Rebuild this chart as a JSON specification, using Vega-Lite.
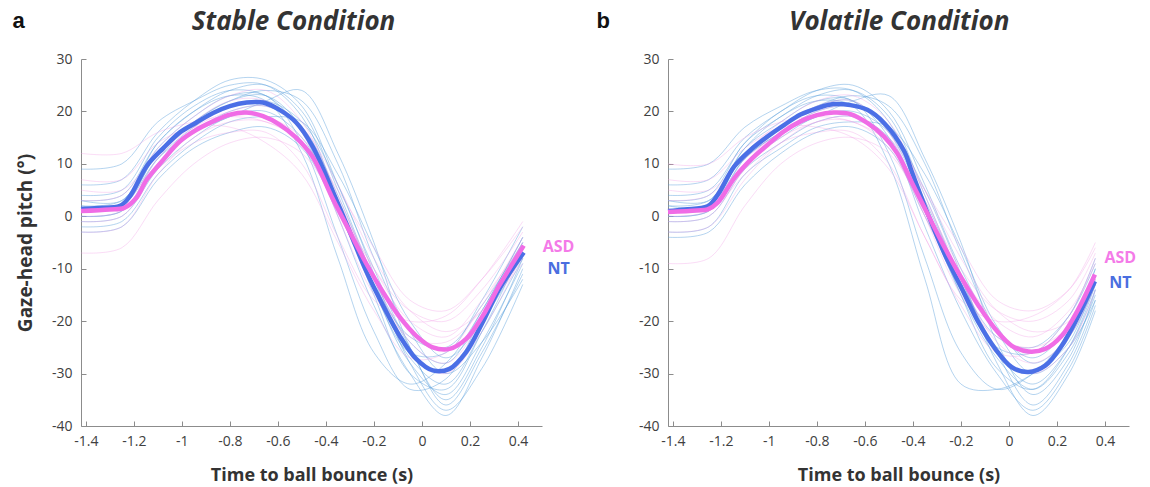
{
"$schema":"https://vega.github.io/schema/vega-lite/v6.json",
"background":"white",
"padding":{"left":12,"top":9,"right":5,"bottom":1},
"spacing":126,
"bounds":"flush",
"datasets":{
"ind":[
{"c":"S","g":"N","i":"n1","t":-1.42,"v":3},{"c":"S","g":"N","i":"n1","t":-1.25,"v":4},{"c":"S","g":"N","i":"n1","t":-1.1,"v":14},{"c":"S","g":"N","i":"n1","t":-0.95,"v":20},{"c":"S","g":"N","i":"n1","t":-0.8,"v":24},{"c":"S","g":"N","i":"n1","t":-0.65,"v":25},{"c":"S","g":"N","i":"n1","t":-0.5,"v":20},{"c":"S","g":"N","i":"n1","t":-0.35,"v":5},{"c":"S","g":"N","i":"n1","t":-0.2,"v":-12},{"c":"S","g":"N","i":"n1","t":-0.05,"v":-27},{"c":"S","g":"N","i":"n1","t":0.1,"v":-32},{"c":"S","g":"N","i":"n1","t":0.25,"v":-22},{"c":"S","g":"N","i":"n1","t":0.42,"v":-8},
{"c":"S","g":"N","i":"n2","t":-1.42,"v":-1},{"c":"S","g":"N","i":"n2","t":-1.25,"v":0},{"c":"S","g":"N","i":"n2","t":-1.1,"v":9},{"c":"S","g":"N","i":"n2","t":-0.95,"v":15},{"c":"S","g":"N","i":"n2","t":-0.8,"v":19},{"c":"S","g":"N","i":"n2","t":-0.65,"v":20},{"c":"S","g":"N","i":"n2","t":-0.5,"v":15},{"c":"S","g":"N","i":"n2","t":-0.35,"v":2},{"c":"S","g":"N","i":"n2","t":-0.2,"v":-14},{"c":"S","g":"N","i":"n2","t":-0.05,"v":-28},{"c":"S","g":"N","i":"n2","t":0.1,"v":-34},{"c":"S","g":"N","i":"n2","t":0.25,"v":-24},{"c":"S","g":"N","i":"n2","t":0.42,"v":-9},
{"c":"S","g":"N","i":"n3","t":-1.42,"v":6},{"c":"S","g":"N","i":"n3","t":-1.25,"v":7},{"c":"S","g":"N","i":"n3","t":-1.1,"v":16},{"c":"S","g":"N","i":"n3","t":-0.95,"v":22},{"c":"S","g":"N","i":"n3","t":-0.8,"v":26},{"c":"S","g":"N","i":"n3","t":-0.65,"v":26},{"c":"S","g":"N","i":"n3","t":-0.5,"v":21},{"c":"S","g":"N","i":"n3","t":-0.35,"v":6},{"c":"S","g":"N","i":"n3","t":-0.2,"v":-10},{"c":"S","g":"N","i":"n3","t":-0.05,"v":-24},{"c":"S","g":"N","i":"n3","t":0.1,"v":-28},{"c":"S","g":"N","i":"n3","t":0.25,"v":-18},{"c":"S","g":"N","i":"n3","t":0.42,"v":-4},
{"c":"S","g":"N","i":"n4","t":-1.42,"v":0},{"c":"S","g":"N","i":"n4","t":-1.25,"v":1},{"c":"S","g":"N","i":"n4","t":-1.1,"v":10},{"c":"S","g":"N","i":"n4","t":-0.95,"v":16},{"c":"S","g":"N","i":"n4","t":-0.8,"v":20},{"c":"S","g":"N","i":"n4","t":-0.65,"v":21},{"c":"S","g":"N","i":"n4","t":-0.5,"v":17},{"c":"S","g":"N","i":"n4","t":-0.35,"v":4},{"c":"S","g":"N","i":"n4","t":-0.2,"v":-12},{"c":"S","g":"N","i":"n4","t":-0.05,"v":-25},{"c":"S","g":"N","i":"n4","t":0.1,"v":-36},{"c":"S","g":"N","i":"n4","t":0.25,"v":-26},{"c":"S","g":"N","i":"n4","t":0.42,"v":-11},
{"c":"S","g":"N","i":"n5","t":-1.42,"v":2},{"c":"S","g":"N","i":"n5","t":-1.25,"v":3},{"c":"S","g":"N","i":"n5","t":-1.1,"v":13},{"c":"S","g":"N","i":"n5","t":-0.95,"v":19},{"c":"S","g":"N","i":"n5","t":-0.8,"v":23},{"c":"S","g":"N","i":"n5","t":-0.65,"v":23},{"c":"S","g":"N","i":"n5","t":-0.5,"v":14},{"c":"S","g":"N","i":"n5","t":-0.35,"v":-4},{"c":"S","g":"N","i":"n5","t":-0.2,"v":-22},{"c":"S","g":"N","i":"n5","t":-0.05,"v":-33},{"c":"S","g":"N","i":"n5","t":0.1,"v":-31},{"c":"S","g":"N","i":"n5","t":0.25,"v":-19},{"c":"S","g":"N","i":"n5","t":0.42,"v":-5},
{"c":"S","g":"N","i":"n6","t":-1.42,"v":-2},{"c":"S","g":"N","i":"n6","t":-1.25,"v":-1},{"c":"S","g":"N","i":"n6","t":-1.1,"v":8},{"c":"S","g":"N","i":"n6","t":-0.95,"v":14},{"c":"S","g":"N","i":"n6","t":-0.8,"v":18},{"c":"S","g":"N","i":"n6","t":-0.65,"v":19},{"c":"S","g":"N","i":"n6","t":-0.5,"v":18},{"c":"S","g":"N","i":"n6","t":-0.35,"v":8},{"c":"S","g":"N","i":"n6","t":-0.2,"v":-6},{"c":"S","g":"N","i":"n6","t":-0.05,"v":-20},{"c":"S","g":"N","i":"n6","t":0.1,"v":-27},{"c":"S","g":"N","i":"n6","t":0.25,"v":-20},{"c":"S","g":"N","i":"n6","t":0.42,"v":-7},
{"c":"S","g":"N","i":"n7","t":-1.42,"v":4},{"c":"S","g":"N","i":"n7","t":-1.25,"v":5},{"c":"S","g":"N","i":"n7","t":-1.1,"v":15},{"c":"S","g":"N","i":"n7","t":-0.95,"v":21},{"c":"S","g":"N","i":"n7","t":-0.8,"v":24},{"c":"S","g":"N","i":"n7","t":-0.65,"v":23},{"c":"S","g":"N","i":"n7","t":-0.5,"v":16},{"c":"S","g":"N","i":"n7","t":-0.35,"v":0},{"c":"S","g":"N","i":"n7","t":-0.2,"v":-17},{"c":"S","g":"N","i":"n7","t":-0.05,"v":-30},{"c":"S","g":"N","i":"n7","t":0.1,"v":-38},{"c":"S","g":"N","i":"n7","t":0.25,"v":-27},{"c":"S","g":"N","i":"n7","t":0.42,"v":-10},
{"c":"S","g":"N","i":"n8","t":-1.42,"v":1},{"c":"S","g":"N","i":"n8","t":-1.25,"v":2},{"c":"S","g":"N","i":"n8","t":-1.1,"v":12},{"c":"S","g":"N","i":"n8","t":-0.95,"v":18},{"c":"S","g":"N","i":"n8","t":-0.8,"v":22},{"c":"S","g":"N","i":"n8","t":-0.65,"v":24},{"c":"S","g":"N","i":"n8","t":-0.5,"v":22},{"c":"S","g":"N","i":"n8","t":-0.35,"v":10},{"c":"S","g":"N","i":"n8","t":-0.2,"v":-8},{"c":"S","g":"N","i":"n8","t":-0.05,"v":-22},{"c":"S","g":"N","i":"n8","t":0.1,"v":-30},{"c":"S","g":"N","i":"n8","t":0.25,"v":-24},{"c":"S","g":"N","i":"n8","t":0.42,"v":-12},
{"c":"S","g":"N","i":"n9","t":-1.42,"v":9},{"c":"S","g":"N","i":"n9","t":-1.25,"v":10},{"c":"S","g":"N","i":"n9","t":-1.1,"v":18},{"c":"S","g":"N","i":"n9","t":-0.95,"v":22},{"c":"S","g":"N","i":"n9","t":-0.8,"v":25},{"c":"S","g":"N","i":"n9","t":-0.65,"v":25},{"c":"S","g":"N","i":"n9","t":-0.5,"v":19},{"c":"S","g":"N","i":"n9","t":-0.35,"v":3},{"c":"S","g":"N","i":"n9","t":-0.2,"v":-14},{"c":"S","g":"N","i":"n9","t":-0.05,"v":-26},{"c":"S","g":"N","i":"n9","t":0.1,"v":-26},{"c":"S","g":"N","i":"n9","t":0.25,"v":-16},{"c":"S","g":"N","i":"n9","t":0.42,"v":-2},
{"c":"S","g":"N","i":"n10","t":-1.42,"v":-3},{"c":"S","g":"N","i":"n10","t":-1.25,"v":-2},{"c":"S","g":"N","i":"n10","t":-1.1,"v":7},{"c":"S","g":"N","i":"n10","t":-0.95,"v":13},{"c":"S","g":"N","i":"n10","t":-0.8,"v":16},{"c":"S","g":"N","i":"n10","t":-0.65,"v":17},{"c":"S","g":"N","i":"n10","t":-0.5,"v":13},{"c":"S","g":"N","i":"n10","t":-0.35,"v":1},{"c":"S","g":"N","i":"n10","t":-0.2,"v":-13},{"c":"S","g":"N","i":"n10","t":-0.05,"v":-23},{"c":"S","g":"N","i":"n10","t":0.1,"v":-25},{"c":"S","g":"N","i":"n10","t":0.25,"v":-17},{"c":"S","g":"N","i":"n10","t":0.42,"v":-5},
{"c":"S","g":"N","i":"n11","t":-1.42,"v":2},{"c":"S","g":"N","i":"n11","t":-1.25,"v":2},{"c":"S","g":"N","i":"n11","t":-1.1,"v":11},{"c":"S","g":"N","i":"n11","t":-0.95,"v":16},{"c":"S","g":"N","i":"n11","t":-0.8,"v":19},{"c":"S","g":"N","i":"n11","t":-0.65,"v":22},{"c":"S","g":"N","i":"n11","t":-0.5,"v":24},{"c":"S","g":"N","i":"n11","t":-0.35,"v":12},{"c":"S","g":"N","i":"n11","t":-0.2,"v":-5},{"c":"S","g":"N","i":"n11","t":-0.05,"v":-25},{"c":"S","g":"N","i":"n11","t":0.1,"v":-35},{"c":"S","g":"N","i":"n11","t":0.25,"v":-25},{"c":"S","g":"N","i":"n11","t":0.42,"v":-8},
{"c":"S","g":"N","i":"n12","t":-1.42,"v":0},{"c":"S","g":"N","i":"n12","t":-1.25,"v":1},{"c":"S","g":"N","i":"n12","t":-1.1,"v":11},{"c":"S","g":"N","i":"n12","t":-0.95,"v":17},{"c":"S","g":"N","i":"n12","t":-0.8,"v":21},{"c":"S","g":"N","i":"n12","t":-0.65,"v":22},{"c":"S","g":"N","i":"n12","t":-0.5,"v":18},{"c":"S","g":"N","i":"n12","t":-0.35,"v":6},{"c":"S","g":"N","i":"n12","t":-0.2,"v":-11},{"c":"S","g":"N","i":"n12","t":-0.05,"v":-28},{"c":"S","g":"N","i":"n12","t":0.1,"v":-37},{"c":"S","g":"N","i":"n12","t":0.25,"v":-29},{"c":"S","g":"N","i":"n12","t":0.42,"v":-13},
{"c":"S","g":"N","i":"n13","t":-1.42,"v":3},{"c":"S","g":"N","i":"n13","t":-1.25,"v":3},{"c":"S","g":"N","i":"n13","t":-1.1,"v":14},{"c":"S","g":"N","i":"n13","t":-0.95,"v":20},{"c":"S","g":"N","i":"n13","t":-0.8,"v":23},{"c":"S","g":"N","i":"n13","t":-0.65,"v":22},{"c":"S","g":"N","i":"n13","t":-0.5,"v":12},{"c":"S","g":"N","i":"n13","t":-0.35,"v":-8},{"c":"S","g":"N","i":"n13","t":-0.2,"v":-26},{"c":"S","g":"N","i":"n13","t":-0.05,"v":-32},{"c":"S","g":"N","i":"n13","t":0.1,"v":-28},{"c":"S","g":"N","i":"n13","t":0.25,"v":-18},{"c":"S","g":"N","i":"n13","t":0.42,"v":-4},
{"c":"S","g":"N","i":"n14","t":-1.42,"v":1},{"c":"S","g":"N","i":"n14","t":-1.25,"v":2},{"c":"S","g":"N","i":"n14","t":-1.1,"v":12},{"c":"S","g":"N","i":"n14","t":-0.95,"v":18},{"c":"S","g":"N","i":"n14","t":-0.8,"v":22},{"c":"S","g":"N","i":"n14","t":-0.65,"v":23},{"c":"S","g":"N","i":"n14","t":-0.5,"v":17},{"c":"S","g":"N","i":"n14","t":-0.35,"v":3},{"c":"S","g":"N","i":"n14","t":-0.2,"v":-15},{"c":"S","g":"N","i":"n14","t":-0.05,"v":-30},{"c":"S","g":"N","i":"n14","t":0.1,"v":-33},{"c":"S","g":"N","i":"n14","t":0.25,"v":-22},{"c":"S","g":"N","i":"n14","t":0.42,"v":-6},
{"c":"S","g":"A","i":"a1","t":-1.42,"v":12},{"c":"S","g":"A","i":"a1","t":-1.25,"v":12},{"c":"S","g":"A","i":"a1","t":-1.1,"v":16},{"c":"S","g":"A","i":"a1","t":-0.95,"v":18},{"c":"S","g":"A","i":"a1","t":-0.8,"v":19},{"c":"S","g":"A","i":"a1","t":-0.65,"v":18},{"c":"S","g":"A","i":"a1","t":-0.5,"v":14},{"c":"S","g":"A","i":"a1","t":-0.35,"v":3},{"c":"S","g":"A","i":"a1","t":-0.2,"v":-10},{"c":"S","g":"A","i":"a1","t":-0.05,"v":-18},{"c":"S","g":"A","i":"a1","t":0.1,"v":-20},{"c":"S","g":"A","i":"a1","t":0.25,"v":-14},{"c":"S","g":"A","i":"a1","t":0.42,"v":-3},
{"c":"S","g":"A","i":"a2","t":-1.42,"v":-7},{"c":"S","g":"A","i":"a2","t":-1.25,"v":-6},{"c":"S","g":"A","i":"a2","t":-1.1,"v":3},{"c":"S","g":"A","i":"a2","t":-0.95,"v":10},{"c":"S","g":"A","i":"a2","t":-0.8,"v":14},{"c":"S","g":"A","i":"a2","t":-0.65,"v":15},{"c":"S","g":"A","i":"a2","t":-0.5,"v":12},{"c":"S","g":"A","i":"a2","t":-0.35,"v":2},{"c":"S","g":"A","i":"a2","t":-0.2,"v":-10},{"c":"S","g":"A","i":"a2","t":-0.05,"v":-20},{"c":"S","g":"A","i":"a2","t":0.1,"v":-23},{"c":"S","g":"A","i":"a2","t":0.25,"v":-16},{"c":"S","g":"A","i":"a2","t":0.42,"v":-5},
{"c":"S","g":"A","i":"a3","t":-1.42,"v":3},{"c":"S","g":"A","i":"a3","t":-1.25,"v":4},{"c":"S","g":"A","i":"a3","t":-1.1,"v":13},{"c":"S","g":"A","i":"a3","t":-0.95,"v":19},{"c":"S","g":"A","i":"a3","t":-0.8,"v":23},{"c":"S","g":"A","i":"a3","t":-0.65,"v":24},{"c":"S","g":"A","i":"a3","t":-0.5,"v":18},{"c":"S","g":"A","i":"a3","t":-0.35,"v":4},{"c":"S","g":"A","i":"a3","t":-0.2,"v":-12},{"c":"S","g":"A","i":"a3","t":-0.05,"v":-24},{"c":"S","g":"A","i":"a3","t":0.1,"v":-28},{"c":"S","g":"A","i":"a3","t":0.25,"v":-20},{"c":"S","g":"A","i":"a3","t":0.42,"v":-6},
{"c":"S","g":"A","i":"a4","t":-1.42,"v":0},{"c":"S","g":"A","i":"a4","t":-1.25,"v":1},{"c":"S","g":"A","i":"a4","t":-1.1,"v":9},{"c":"S","g":"A","i":"a4","t":-0.95,"v":14},{"c":"S","g":"A","i":"a4","t":-0.8,"v":16},{"c":"S","g":"A","i":"a4","t":-0.65,"v":16},{"c":"S","g":"A","i":"a4","t":-0.5,"v":10},{"c":"S","g":"A","i":"a4","t":-0.35,"v":-4},{"c":"S","g":"A","i":"a4","t":-0.2,"v":-16},{"c":"S","g":"A","i":"a4","t":-0.05,"v":-20},{"c":"S","g":"A","i":"a4","t":0.1,"v":-19},{"c":"S","g":"A","i":"a4","t":0.25,"v":-12},{"c":"S","g":"A","i":"a4","t":0.42,"v":-1},
{"c":"S","g":"A","i":"a5","t":-1.42,"v":5},{"c":"S","g":"A","i":"a5","t":-1.25,"v":5},{"c":"S","g":"A","i":"a5","t":-1.1,"v":12},{"c":"S","g":"A","i":"a5","t":-0.95,"v":17},{"c":"S","g":"A","i":"a5","t":-0.8,"v":20},{"c":"S","g":"A","i":"a5","t":-0.65,"v":21},{"c":"S","g":"A","i":"a5","t":-0.5,"v":17},{"c":"S","g":"A","i":"a5","t":-0.35,"v":6},{"c":"S","g":"A","i":"a5","t":-0.2,"v":-8},{"c":"S","g":"A","i":"a5","t":-0.05,"v":-18},{"c":"S","g":"A","i":"a5","t":0.1,"v":-22},{"c":"S","g":"A","i":"a5","t":0.25,"v":-18},{"c":"S","g":"A","i":"a5","t":0.42,"v":-8},
{"c":"S","g":"A","i":"a6","t":-1.42,"v":-3},{"c":"S","g":"A","i":"a6","t":-1.25,"v":-2},{"c":"S","g":"A","i":"a6","t":-1.1,"v":8},{"c":"S","g":"A","i":"a6","t":-0.95,"v":15},{"c":"S","g":"A","i":"a6","t":-0.8,"v":18},{"c":"S","g":"A","i":"a6","t":-0.65,"v":18},{"c":"S","g":"A","i":"a6","t":-0.5,"v":14},{"c":"S","g":"A","i":"a6","t":-0.35,"v":1},{"c":"S","g":"A","i":"a6","t":-0.2,"v":-14},{"c":"S","g":"A","i":"a6","t":-0.05,"v":-26},{"c":"S","g":"A","i":"a6","t":0.1,"v":-30},{"c":"S","g":"A","i":"a6","t":0.25,"v":-22},{"c":"S","g":"A","i":"a6","t":0.42,"v":-7},
{"c":"S","g":"A","i":"a7","t":-1.42,"v":7},{"c":"S","g":"A","i":"a7","t":-1.25,"v":7},{"c":"S","g":"A","i":"a7","t":-1.1,"v":14},{"c":"S","g":"A","i":"a7","t":-0.95,"v":17},{"c":"S","g":"A","i":"a7","t":-0.8,"v":17},{"c":"S","g":"A","i":"a7","t":-0.65,"v":14},{"c":"S","g":"A","i":"a7","t":-0.5,"v":8},{"c":"S","g":"A","i":"a7","t":-0.35,"v":-5},{"c":"S","g":"A","i":"a7","t":-0.2,"v":-18},{"c":"S","g":"A","i":"a7","t":-0.05,"v":-27},{"c":"S","g":"A","i":"a7","t":0.1,"v":-26},{"c":"S","g":"A","i":"a7","t":0.25,"v":-17},{"c":"S","g":"A","i":"a7","t":0.42,"v":-4},
{"c":"S","g":"A","i":"a8","t":-1.42,"v":1},{"c":"S","g":"A","i":"a8","t":-1.25,"v":2},{"c":"S","g":"A","i":"a8","t":-1.1,"v":11},{"c":"S","g":"A","i":"a8","t":-0.95,"v":18},{"c":"S","g":"A","i":"a8","t":-0.8,"v":22},{"c":"S","g":"A","i":"a8","t":-0.65,"v":22},{"c":"S","g":"A","i":"a8","t":-0.5,"v":16},{"c":"S","g":"A","i":"a8","t":-0.35,"v":0},{"c":"S","g":"A","i":"a8","t":-0.2,"v":-15},{"c":"S","g":"A","i":"a8","t":-0.05,"v":-23},{"c":"S","g":"A","i":"a8","t":0.1,"v":-24},{"c":"S","g":"A","i":"a8","t":0.25,"v":-18},{"c":"S","g":"A","i":"a8","t":0.42,"v":-9},
{"c":"S","g":"A","i":"a9","t":-1.42,"v":-1},{"c":"S","g":"A","i":"a9","t":-1.25,"v":0},{"c":"S","g":"A","i":"a9","t":-1.1,"v":10},{"c":"S","g":"A","i":"a9","t":-0.95,"v":16},{"c":"S","g":"A","i":"a9","t":-0.8,"v":19},{"c":"S","g":"A","i":"a9","t":-0.65,"v":19},{"c":"S","g":"A","i":"a9","t":-0.5,"v":15},{"c":"S","g":"A","i":"a9","t":-0.35,"v":5},{"c":"S","g":"A","i":"a9","t":-0.2,"v":-6},{"c":"S","g":"A","i":"a9","t":-0.05,"v":-16},{"c":"S","g":"A","i":"a9","t":0.1,"v":-18},{"c":"S","g":"A","i":"a9","t":0.25,"v":-12},{"c":"S","g":"A","i":"a9","t":0.42,"v":-2},
{"c":"V","g":"N","i":"m1","t":-1.42,"v":3},{"c":"V","g":"N","i":"m1","t":-1.25,"v":4},{"c":"V","g":"N","i":"m1","t":-1.1,"v":14},{"c":"V","g":"N","i":"m1","t":-0.95,"v":19},{"c":"V","g":"N","i":"m1","t":-0.8,"v":23},{"c":"V","g":"N","i":"m1","t":-0.65,"v":24},{"c":"V","g":"N","i":"m1","t":-0.5,"v":19},{"c":"V","g":"N","i":"m1","t":-0.35,"v":4},{"c":"V","g":"N","i":"m1","t":-0.2,"v":-12},{"c":"V","g":"N","i":"m1","t":-0.05,"v":-26},{"c":"V","g":"N","i":"m1","t":0.1,"v":-32},{"c":"V","g":"N","i":"m1","t":0.25,"v":-25},{"c":"V","g":"N","i":"m1","t":0.36,"v":-14},
{"c":"V","g":"N","i":"m2","t":-1.42,"v":-1},{"c":"V","g":"N","i":"m2","t":-1.25,"v":0},{"c":"V","g":"N","i":"m2","t":-1.1,"v":9},{"c":"V","g":"N","i":"m2","t":-0.95,"v":14},{"c":"V","g":"N","i":"m2","t":-0.8,"v":18},{"c":"V","g":"N","i":"m2","t":-0.65,"v":19},{"c":"V","g":"N","i":"m2","t":-0.5,"v":15},{"c":"V","g":"N","i":"m2","t":-0.35,"v":1},{"c":"V","g":"N","i":"m2","t":-0.2,"v":-15},{"c":"V","g":"N","i":"m2","t":-0.05,"v":-27},{"c":"V","g":"N","i":"m2","t":0.1,"v":-33},{"c":"V","g":"N","i":"m2","t":0.25,"v":-26},{"c":"V","g":"N","i":"m2","t":0.36,"v":-15},
{"c":"V","g":"N","i":"m3","t":-1.42,"v":6},{"c":"V","g":"N","i":"m3","t":-1.25,"v":7},{"c":"V","g":"N","i":"m3","t":-1.1,"v":15},{"c":"V","g":"N","i":"m3","t":-0.95,"v":20},{"c":"V","g":"N","i":"m3","t":-0.8,"v":24},{"c":"V","g":"N","i":"m3","t":-0.65,"v":25},{"c":"V","g":"N","i":"m3","t":-0.5,"v":20},{"c":"V","g":"N","i":"m3","t":-0.35,"v":6},{"c":"V","g":"N","i":"m3","t":-0.2,"v":-10},{"c":"V","g":"N","i":"m3","t":-0.05,"v":-22},{"c":"V","g":"N","i":"m3","t":0.1,"v":-27},{"c":"V","g":"N","i":"m3","t":0.25,"v":-21},{"c":"V","g":"N","i":"m3","t":0.36,"v":-10},
{"c":"V","g":"N","i":"m4","t":-1.42,"v":0},{"c":"V","g":"N","i":"m4","t":-1.25,"v":1},{"c":"V","g":"N","i":"m4","t":-1.1,"v":10},{"c":"V","g":"N","i":"m4","t":-0.95,"v":15},{"c":"V","g":"N","i":"m4","t":-0.8,"v":19},{"c":"V","g":"N","i":"m4","t":-0.65,"v":20},{"c":"V","g":"N","i":"m4","t":-0.5,"v":16},{"c":"V","g":"N","i":"m4","t":-0.35,"v":3},{"c":"V","g":"N","i":"m4","t":-0.2,"v":-12},{"c":"V","g":"N","i":"m4","t":-0.05,"v":-26},{"c":"V","g":"N","i":"m4","t":0.1,"v":-36},{"c":"V","g":"N","i":"m4","t":0.25,"v":-28},{"c":"V","g":"N","i":"m4","t":0.36,"v":-16},
{"c":"V","g":"N","i":"m5","t":-1.42,"v":2},{"c":"V","g":"N","i":"m5","t":-1.25,"v":3},{"c":"V","g":"N","i":"m5","t":-1.1,"v":13},{"c":"V","g":"N","i":"m5","t":-0.95,"v":18},{"c":"V","g":"N","i":"m5","t":-0.8,"v":22},{"c":"V","g":"N","i":"m5","t":-0.65,"v":22},{"c":"V","g":"N","i":"m5","t":-0.5,"v":12},{"c":"V","g":"N","i":"m5","t":-0.35,"v":-8},{"c":"V","g":"N","i":"m5","t":-0.2,"v":-26},{"c":"V","g":"N","i":"m5","t":-0.05,"v":-33},{"c":"V","g":"N","i":"m5","t":0.1,"v":-30},{"c":"V","g":"N","i":"m5","t":0.25,"v":-22},{"c":"V","g":"N","i":"m5","t":0.36,"v":-10},
{"c":"V","g":"N","i":"m6","t":-1.42,"v":-3},{"c":"V","g":"N","i":"m6","t":-1.25,"v":-2},{"c":"V","g":"N","i":"m6","t":-1.1,"v":8},{"c":"V","g":"N","i":"m6","t":-0.95,"v":13},{"c":"V","g":"N","i":"m6","t":-0.8,"v":17},{"c":"V","g":"N","i":"m6","t":-0.65,"v":18},{"c":"V","g":"N","i":"m6","t":-0.5,"v":17},{"c":"V","g":"N","i":"m6","t":-0.35,"v":8},{"c":"V","g":"N","i":"m6","t":-0.2,"v":-6},{"c":"V","g":"N","i":"m6","t":-0.05,"v":-21},{"c":"V","g":"N","i":"m6","t":0.1,"v":-28},{"c":"V","g":"N","i":"m6","t":0.25,"v":-23},{"c":"V","g":"N","i":"m6","t":0.36,"v":-13},
{"c":"V","g":"N","i":"m7","t":-1.42,"v":4},{"c":"V","g":"N","i":"m7","t":-1.25,"v":5},{"c":"V","g":"N","i":"m7","t":-1.1,"v":14},{"c":"V","g":"N","i":"m7","t":-0.95,"v":20},{"c":"V","g":"N","i":"m7","t":-0.8,"v":23},{"c":"V","g":"N","i":"m7","t":-0.65,"v":22},{"c":"V","g":"N","i":"m7","t":-0.5,"v":15},{"c":"V","g":"N","i":"m7","t":-0.35,"v":-2},{"c":"V","g":"N","i":"m7","t":-0.2,"v":-18},{"c":"V","g":"N","i":"m7","t":-0.05,"v":-30},{"c":"V","g":"N","i":"m7","t":0.1,"v":-37},{"c":"V","g":"N","i":"m7","t":0.25,"v":-29},{"c":"V","g":"N","i":"m7","t":0.36,"v":-17},
{"c":"V","g":"N","i":"m8","t":-1.42,"v":1},{"c":"V","g":"N","i":"m8","t":-1.25,"v":2},{"c":"V","g":"N","i":"m8","t":-1.1,"v":12},{"c":"V","g":"N","i":"m8","t":-0.95,"v":17},{"c":"V","g":"N","i":"m8","t":-0.8,"v":21},{"c":"V","g":"N","i":"m8","t":-0.65,"v":23},{"c":"V","g":"N","i":"m8","t":-0.5,"v":21},{"c":"V","g":"N","i":"m8","t":-0.35,"v":10},{"c":"V","g":"N","i":"m8","t":-0.2,"v":-7},{"c":"V","g":"N","i":"m8","t":-0.05,"v":-22},{"c":"V","g":"N","i":"m8","t":0.1,"v":-30},{"c":"V","g":"N","i":"m8","t":0.25,"v":-25},{"c":"V","g":"N","i":"m8","t":0.36,"v":-16},
{"c":"V","g":"N","i":"m9","t":-1.42,"v":9},{"c":"V","g":"N","i":"m9","t":-1.25,"v":10},{"c":"V","g":"N","i":"m9","t":-1.1,"v":17},{"c":"V","g":"N","i":"m9","t":-0.95,"v":21},{"c":"V","g":"N","i":"m9","t":-0.8,"v":24},{"c":"V","g":"N","i":"m9","t":-0.65,"v":24},{"c":"V","g":"N","i":"m9","t":-0.5,"v":18},{"c":"V","g":"N","i":"m9","t":-0.35,"v":2},{"c":"V","g":"N","i":"m9","t":-0.2,"v":-14},{"c":"V","g":"N","i":"m9","t":-0.05,"v":-25},{"c":"V","g":"N","i":"m9","t":0.1,"v":-26},{"c":"V","g":"N","i":"m9","t":0.25,"v":-19},{"c":"V","g":"N","i":"m9","t":0.36,"v":-8},
{"c":"V","g":"N","i":"m10","t":-1.42,"v":-4},{"c":"V","g":"N","i":"m10","t":-1.25,"v":-3},{"c":"V","g":"N","i":"m10","t":-1.1,"v":6},{"c":"V","g":"N","i":"m10","t":-0.95,"v":12},{"c":"V","g":"N","i":"m10","t":-0.8,"v":16},{"c":"V","g":"N","i":"m10","t":-0.65,"v":17},{"c":"V","g":"N","i":"m10","t":-0.5,"v":13},{"c":"V","g":"N","i":"m10","t":-0.35,"v":0},{"c":"V","g":"N","i":"m10","t":-0.2,"v":-13},{"c":"V","g":"N","i":"m10","t":-0.05,"v":-23},{"c":"V","g":"N","i":"m10","t":0.1,"v":-25},{"c":"V","g":"N","i":"m10","t":0.25,"v":-19},{"c":"V","g":"N","i":"m10","t":0.36,"v":-9},
{"c":"V","g":"N","i":"m11","t":-1.42,"v":2},{"c":"V","g":"N","i":"m11","t":-1.25,"v":2},{"c":"V","g":"N","i":"m11","t":-1.1,"v":11},{"c":"V","g":"N","i":"m11","t":-0.95,"v":16},{"c":"V","g":"N","i":"m11","t":-0.8,"v":19},{"c":"V","g":"N","i":"m11","t":-0.65,"v":22},{"c":"V","g":"N","i":"m11","t":-0.5,"v":23},{"c":"V","g":"N","i":"m11","t":-0.35,"v":11},{"c":"V","g":"N","i":"m11","t":-0.2,"v":-5},{"c":"V","g":"N","i":"m11","t":-0.05,"v":-24},{"c":"V","g":"N","i":"m11","t":0.1,"v":-34},{"c":"V","g":"N","i":"m11","t":0.25,"v":-27},{"c":"V","g":"N","i":"m11","t":0.36,"v":-14},
{"c":"V","g":"N","i":"m12","t":-1.42,"v":0},{"c":"V","g":"N","i":"m12","t":-1.25,"v":1},{"c":"V","g":"N","i":"m12","t":-1.1,"v":11},{"c":"V","g":"N","i":"m12","t":-0.95,"v":16},{"c":"V","g":"N","i":"m12","t":-0.8,"v":20},{"c":"V","g":"N","i":"m12","t":-0.65,"v":21},{"c":"V","g":"N","i":"m12","t":-0.5,"v":17},{"c":"V","g":"N","i":"m12","t":-0.35,"v":5},{"c":"V","g":"N","i":"m12","t":-0.2,"v":-11},{"c":"V","g":"N","i":"m12","t":-0.05,"v":-28},{"c":"V","g":"N","i":"m12","t":0.1,"v":-38},{"c":"V","g":"N","i":"m12","t":0.25,"v":-30},{"c":"V","g":"N","i":"m12","t":0.36,"v":-18},
{"c":"V","g":"N","i":"m13","t":-1.42,"v":3},{"c":"V","g":"N","i":"m13","t":-1.25,"v":3},{"c":"V","g":"N","i":"m13","t":-1.1,"v":13},{"c":"V","g":"N","i":"m13","t":-0.95,"v":19},{"c":"V","g":"N","i":"m13","t":-0.8,"v":22},{"c":"V","g":"N","i":"m13","t":-0.65,"v":21},{"c":"V","g":"N","i":"m13","t":-0.5,"v":10},{"c":"V","g":"N","i":"m13","t":-0.35,"v":-12},{"c":"V","g":"N","i":"m13","t":-0.2,"v":-32},{"c":"V","g":"N","i":"m13","t":-0.05,"v":-33},{"c":"V","g":"N","i":"m13","t":0.1,"v":-30},{"c":"V","g":"N","i":"m13","t":0.25,"v":-24},{"c":"V","g":"N","i":"m13","t":0.36,"v":-12},
{"c":"V","g":"N","i":"m14","t":-1.42,"v":1},{"c":"V","g":"N","i":"m14","t":-1.25,"v":2},{"c":"V","g":"N","i":"m14","t":-1.1,"v":12},{"c":"V","g":"N","i":"m14","t":-0.95,"v":17},{"c":"V","g":"N","i":"m14","t":-0.8,"v":21},{"c":"V","g":"N","i":"m14","t":-0.65,"v":22},{"c":"V","g":"N","i":"m14","t":-0.5,"v":16},{"c":"V","g":"N","i":"m14","t":-0.35,"v":2},{"c":"V","g":"N","i":"m14","t":-0.2,"v":-15},{"c":"V","g":"N","i":"m14","t":-0.05,"v":-29},{"c":"V","g":"N","i":"m14","t":0.1,"v":-33},{"c":"V","g":"N","i":"m14","t":0.25,"v":-25},{"c":"V","g":"N","i":"m14","t":0.36,"v":-13},
{"c":"V","g":"A","i":"b1","t":-1.42,"v":10},{"c":"V","g":"A","i":"b1","t":-1.25,"v":10},{"c":"V","g":"A","i":"b1","t":-1.1,"v":15},{"c":"V","g":"A","i":"b1","t":-0.95,"v":18},{"c":"V","g":"A","i":"b1","t":-0.8,"v":19},{"c":"V","g":"A","i":"b1","t":-0.65,"v":18},{"c":"V","g":"A","i":"b1","t":-0.5,"v":14},{"c":"V","g":"A","i":"b1","t":-0.35,"v":3},{"c":"V","g":"A","i":"b1","t":-0.2,"v":-10},{"c":"V","g":"A","i":"b1","t":-0.05,"v":-18},{"c":"V","g":"A","i":"b1","t":0.1,"v":-20},{"c":"V","g":"A","i":"b1","t":0.25,"v":-16},{"c":"V","g":"A","i":"b1","t":0.36,"v":-7},
{"c":"V","g":"A","i":"b2","t":-1.42,"v":-9},{"c":"V","g":"A","i":"b2","t":-1.25,"v":-8},{"c":"V","g":"A","i":"b2","t":-1.1,"v":2},{"c":"V","g":"A","i":"b2","t":-0.95,"v":10},{"c":"V","g":"A","i":"b2","t":-0.8,"v":14},{"c":"V","g":"A","i":"b2","t":-0.65,"v":15},{"c":"V","g":"A","i":"b2","t":-0.5,"v":12},{"c":"V","g":"A","i":"b2","t":-0.35,"v":1},{"c":"V","g":"A","i":"b2","t":-0.2,"v":-11},{"c":"V","g":"A","i":"b2","t":-0.05,"v":-20},{"c":"V","g":"A","i":"b2","t":0.1,"v":-23},{"c":"V","g":"A","i":"b2","t":0.25,"v":-18},{"c":"V","g":"A","i":"b2","t":0.36,"v":-9},
{"c":"V","g":"A","i":"b3","t":-1.42,"v":3},{"c":"V","g":"A","i":"b3","t":-1.25,"v":4},{"c":"V","g":"A","i":"b3","t":-1.1,"v":12},{"c":"V","g":"A","i":"b3","t":-0.95,"v":18},{"c":"V","g":"A","i":"b3","t":-0.8,"v":22},{"c":"V","g":"A","i":"b3","t":-0.65,"v":23},{"c":"V","g":"A","i":"b3","t":-0.5,"v":18},{"c":"V","g":"A","i":"b3","t":-0.35,"v":4},{"c":"V","g":"A","i":"b3","t":-0.2,"v":-12},{"c":"V","g":"A","i":"b3","t":-0.05,"v":-24},{"c":"V","g":"A","i":"b3","t":0.1,"v":-28},{"c":"V","g":"A","i":"b3","t":0.25,"v":-23},{"c":"V","g":"A","i":"b3","t":0.36,"v":-13},
{"c":"V","g":"A","i":"b4","t":-1.42,"v":0},{"c":"V","g":"A","i":"b4","t":-1.25,"v":1},{"c":"V","g":"A","i":"b4","t":-1.1,"v":8},{"c":"V","g":"A","i":"b4","t":-0.95,"v":14},{"c":"V","g":"A","i":"b4","t":-0.8,"v":16},{"c":"V","g":"A","i":"b4","t":-0.65,"v":16},{"c":"V","g":"A","i":"b4","t":-0.5,"v":10},{"c":"V","g":"A","i":"b4","t":-0.35,"v":-4},{"c":"V","g":"A","i":"b4","t":-0.2,"v":-16},{"c":"V","g":"A","i":"b4","t":-0.05,"v":-20},{"c":"V","g":"A","i":"b4","t":0.1,"v":-19},{"c":"V","g":"A","i":"b4","t":0.25,"v":-14},{"c":"V","g":"A","i":"b4","t":0.36,"v":-5},
{"c":"V","g":"A","i":"b5","t":-1.42,"v":5},{"c":"V","g":"A","i":"b5","t":-1.25,"v":5},{"c":"V","g":"A","i":"b5","t":-1.1,"v":11},{"c":"V","g":"A","i":"b5","t":-0.95,"v":16},{"c":"V","g":"A","i":"b5","t":-0.8,"v":20},{"c":"V","g":"A","i":"b5","t":-0.65,"v":21},{"c":"V","g":"A","i":"b5","t":-0.5,"v":17},{"c":"V","g":"A","i":"b5","t":-0.35,"v":5},{"c":"V","g":"A","i":"b5","t":-0.2,"v":-8},{"c":"V","g":"A","i":"b5","t":-0.05,"v":-18},{"c":"V","g":"A","i":"b5","t":0.1,"v":-22},{"c":"V","g":"A","i":"b5","t":0.25,"v":-20},{"c":"V","g":"A","i":"b5","t":0.36,"v":-12},
{"c":"V","g":"A","i":"b6","t":-1.42,"v":-3},{"c":"V","g":"A","i":"b6","t":-1.25,"v":-2},{"c":"V","g":"A","i":"b6","t":-1.1,"v":7},{"c":"V","g":"A","i":"b6","t":-0.95,"v":14},{"c":"V","g":"A","i":"b6","t":-0.8,"v":18},{"c":"V","g":"A","i":"b6","t":-0.65,"v":18},{"c":"V","g":"A","i":"b6","t":-0.5,"v":13},{"c":"V","g":"A","i":"b6","t":-0.35,"v":0},{"c":"V","g":"A","i":"b6","t":-0.2,"v":-14},{"c":"V","g":"A","i":"b6","t":-0.05,"v":-26},{"c":"V","g":"A","i":"b6","t":0.1,"v":-30},{"c":"V","g":"A","i":"b6","t":0.25,"v":-25},{"c":"V","g":"A","i":"b6","t":0.36,"v":-14},
{"c":"V","g":"A","i":"b7","t":-1.42,"v":7},{"c":"V","g":"A","i":"b7","t":-1.25,"v":7},{"c":"V","g":"A","i":"b7","t":-1.1,"v":13},{"c":"V","g":"A","i":"b7","t":-0.95,"v":17},{"c":"V","g":"A","i":"b7","t":-0.8,"v":17},{"c":"V","g":"A","i":"b7","t":-0.65,"v":15},{"c":"V","g":"A","i":"b7","t":-0.5,"v":9},{"c":"V","g":"A","i":"b7","t":-0.35,"v":-4},{"c":"V","g":"A","i":"b7","t":-0.2,"v":-17},{"c":"V","g":"A","i":"b7","t":-0.05,"v":-26},{"c":"V","g":"A","i":"b7","t":0.1,"v":-26},{"c":"V","g":"A","i":"b7","t":0.25,"v":-19},{"c":"V","g":"A","i":"b7","t":0.36,"v":-8},
{"c":"V","g":"A","i":"b8","t":-1.42,"v":1},{"c":"V","g":"A","i":"b8","t":-1.25,"v":2},{"c":"V","g":"A","i":"b8","t":-1.1,"v":10},{"c":"V","g":"A","i":"b8","t":-0.95,"v":17},{"c":"V","g":"A","i":"b8","t":-0.8,"v":21},{"c":"V","g":"A","i":"b8","t":-0.65,"v":22},{"c":"V","g":"A","i":"b8","t":-0.5,"v":16},{"c":"V","g":"A","i":"b8","t":-0.35,"v":0},{"c":"V","g":"A","i":"b8","t":-0.2,"v":-15},{"c":"V","g":"A","i":"b8","t":-0.05,"v":-23},{"c":"V","g":"A","i":"b8","t":0.1,"v":-25},{"c":"V","g":"A","i":"b8","t":0.25,"v":-21},{"c":"V","g":"A","i":"b8","t":0.36,"v":-12},
{"c":"V","g":"A","i":"b9","t":-1.42,"v":-1},{"c":"V","g":"A","i":"b9","t":-1.25,"v":0},{"c":"V","g":"A","i":"b9","t":-1.1,"v":9},{"c":"V","g":"A","i":"b9","t":-0.95,"v":15},{"c":"V","g":"A","i":"b9","t":-0.8,"v":18},{"c":"V","g":"A","i":"b9","t":-0.65,"v":19},{"c":"V","g":"A","i":"b9","t":-0.5,"v":15},{"c":"V","g":"A","i":"b9","t":-0.35,"v":5},{"c":"V","g":"A","i":"b9","t":-0.2,"v":-6},{"c":"V","g":"A","i":"b9","t":-0.05,"v":-16},{"c":"V","g":"A","i":"b9","t":0.1,"v":-18},{"c":"V","g":"A","i":"b9","t":0.25,"v":-14},{"c":"V","g":"A","i":"b9","t":0.36,"v":-6}
],
"mean":[
{"c":"S","g":"N","t":-1.42,"v":1.4},{"c":"S","g":"N","t":-1.35,"v":1.6},{"c":"S","g":"N","t":-1.257,"v":2.0},{"c":"S","g":"N","t":-1.215,"v":3.9},{"c":"S","g":"N","t":-1.146,"v":9.6},{"c":"S","g":"N","t":-1.077,"v":13},{"c":"S","g":"N","t":-1.008,"v":16},{"c":"S","g":"N","t":-0.939,"v":17.9},{"c":"S","g":"N","t":-0.87,"v":19.7},{"c":"S","g":"N","t":-0.8,"v":21},{"c":"S","g":"N","t":-0.73,"v":21.7},{"c":"S","g":"N","t":-0.662,"v":21.7},{"c":"S","g":"N","t":-0.593,"v":20.3},{"c":"S","g":"N","t":-0.524,"v":17.9},{"c":"S","g":"N","t":-0.455,"v":13.3},{"c":"S","g":"N","t":-0.37,"v":4.6},{"c":"S","g":"N","t":-0.3,"v":-3.0},{"c":"S","g":"N","t":-0.231,"v":-10.6},{"c":"S","g":"N","t":-0.162,"v":-17},{"c":"S","g":"N","t":-0.093,"v":-22.8},{"c":"S","g":"N","t":-0.024,"v":-27.2},{"c":"S","g":"N","t":0.045,"v":-29.4},{"c":"S","g":"N","t":0.115,"v":-29.1},{"c":"S","g":"N","t":0.184,"v":-25.9},{"c":"S","g":"N","t":0.253,"v":-20.2},{"c":"S","g":"N","t":0.322,"v":-13.9},{"c":"S","g":"N","t":0.424,"v":-6.9},
{"c":"S","g":"A","t":-1.42,"v":1.0},{"c":"S","g":"A","t":-1.3,"v":1.3},{"c":"S","g":"A","t":-1.24,"v":1.6},{"c":"S","g":"A","t":-1.19,"v":3.5},{"c":"S","g":"A","t":-1.146,"v":7},{"c":"S","g":"A","t":-1.077,"v":10.8},{"c":"S","g":"A","t":-1.008,"v":14.3},{"c":"S","g":"A","t":-0.939,"v":16.5},{"c":"S","g":"A","t":-0.87,"v":18.1},{"c":"S","g":"A","t":-0.8,"v":19.4},{"c":"S","g":"A","t":-0.73,"v":19.8},{"c":"S","g":"A","t":-0.662,"v":19.1},{"c":"S","g":"A","t":-0.593,"v":17.5},{"c":"S","g":"A","t":-0.524,"v":15.0},{"c":"S","g":"A","t":-0.455,"v":11.3},{"c":"S","g":"A","t":-0.37,"v":3.2},{"c":"S","g":"A","t":-0.3,"v":-3.0},{"c":"S","g":"A","t":-0.231,"v":-9.1},{"c":"S","g":"A","t":-0.162,"v":-14.5},{"c":"S","g":"A","t":-0.093,"v":-19.2},{"c":"S","g":"A","t":-0.024,"v":-22.8},{"c":"S","g":"A","t":0.045,"v":-25},{"c":"S","g":"A","t":0.115,"v":-25.3},{"c":"S","g":"A","t":0.184,"v":-23.4},{"c":"S","g":"A","t":0.253,"v":-19},{"c":"S","g":"A","t":0.322,"v":-13.2},{"c":"S","g":"A","t":0.424,"v":-5.6},
{"c":"V","g":"N","t":-1.42,"v":1.0},{"c":"V","g":"N","t":-1.35,"v":1.3},{"c":"V","g":"N","t":-1.255,"v":1.9},{"c":"V","g":"N","t":-1.213,"v":4.1},{"c":"V","g":"N","t":-1.144,"v":9.5},{"c":"V","g":"N","t":-1.075,"v":12.7},{"c":"V","g":"N","t":-1.006,"v":15.2},{"c":"V","g":"N","t":-0.937,"v":17.4},{"c":"V","g":"N","t":-0.868,"v":19.4},{"c":"V","g":"N","t":-0.8,"v":20.6},{"c":"V","g":"N","t":-0.73,"v":21.4},{"c":"V","g":"N","t":-0.66,"v":21.2},{"c":"V","g":"N","t":-0.59,"v":20.3},{"c":"V","g":"N","t":-0.52,"v":17.8},{"c":"V","g":"N","t":-0.437,"v":12.5},{"c":"V","g":"N","t":-0.403,"v":8.3},{"c":"V","g":"N","t":-0.334,"v":0},{"c":"V","g":"N","t":-0.264,"v":-7.6},{"c":"V","g":"N","t":-0.195,"v":-13.9},{"c":"V","g":"N","t":-0.126,"v":-20.3},{"c":"V","g":"N","t":-0.057,"v":-25.3},{"c":"V","g":"N","t":0.012,"v":-28.8},{"c":"V","g":"N","t":0.081,"v":-29.7},{"c":"V","g":"N","t":0.151,"v":-28.5},{"c":"V","g":"N","t":0.22,"v":-24.7},{"c":"V","g":"N","t":0.289,"v":-19},{"c":"V","g":"N","t":0.358,"v":-12.4},
{"c":"V","g":"A","t":-1.42,"v":0.8},{"c":"V","g":"A","t":-1.3,"v":1.1},{"c":"V","g":"A","t":-1.255,"v":1.3},{"c":"V","g":"A","t":-1.213,"v":2.6},{"c":"V","g":"A","t":-1.144,"v":7.3},{"c":"V","g":"A","t":-1.075,"v":10.8},{"c":"V","g":"A","t":-1.006,"v":13.6},{"c":"V","g":"A","t":-0.937,"v":16.2},{"c":"V","g":"A","t":-0.868,"v":18.1},{"c":"V","g":"A","t":-0.8,"v":19.3},{"c":"V","g":"A","t":-0.73,"v":19.8},{"c":"V","g":"A","t":-0.66,"v":19.5},{"c":"V","g":"A","t":-0.59,"v":17.8},{"c":"V","g":"A","t":-0.52,"v":15.2},{"c":"V","g":"A","t":-0.465,"v":12.0},{"c":"V","g":"A","t":-0.403,"v":6.3},{"c":"V","g":"A","t":-0.334,"v":0},{"c":"V","g":"A","t":-0.264,"v":-6.3},{"c":"V","g":"A","t":-0.195,"v":-12},{"c":"V","g":"A","t":-0.126,"v":-17.1},{"c":"V","g":"A","t":-0.057,"v":-21.5},{"c":"V","g":"A","t":0.012,"v":-24.7},{"c":"V","g":"A","t":0.081,"v":-25.8},{"c":"V","g":"A","t":0.151,"v":-25.3},{"c":"V","g":"A","t":0.22,"v":-22.8},{"c":"V","g":"A","t":0.289,"v":-17.7},{"c":"V","g":"A","t":0.358,"v":-11.1}
],
"lab":[
{"c":"S","g":"A","t":0.569,"v":-5.9,"txt":"ASD"},{"c":"S","g":"N","t":0.569,"v":-10.1,"txt":"NT"},
{"c":"V","g":"A","t":0.464,"v":-8,"txt":"ASD"},{"c":"V","g":"N","t":0.464,"v":-12.8,"txt":"NT"}
],
"letter":[
{"c":"S","t":-1.68,"v":37.2,"txt":"a"},{"c":"V","t":-1.69,"v":37.2,"txt":"b"}
],
"head":[
{"c":"S","t":-0.535,"v":37.0,"txt":"Stable Condition"},{"c":"V","t":-0.457,"v":37.0,"txt":"Volatile Condition"}
]
},
"hconcat":[
{
"width":461,"height":367,
"encoding":{
"x":{"field":"t","type":"quantitative","scale":{"domain":[-1.42,0.5],"nice":false,"zero":false},"axis":{"values":[-1.4,-1.2,-1,-0.8,-0.6,-0.4,-0.2,0,0.2,0.4],"format":"~g","labelExpr":"replace(datum.label, '−', '-')","title":"Time to ball bounce (s)"}},
"y":{"field":"v","type":"quantitative","scale":{"domain":[-40,30],"nice":false,"zero":false},"axis":{"values":[-40,-30,-20,-10,0,10,20,30],"labelExpr":"replace(datum.label, '−', '-')","title":"Gaze-head pitch (°)"}}
},
"layer":[
{"data":{"name":"ind"},"transform":[{"filter":"datum.c=='S' && datum.g=='N'"}],"mark":{"type":"line","interpolate":"catmull-rom","strokeWidth":1,"opacity":0.45,"color":"#5c9fdc"},"encoding":{"detail":{"field":"i"}}},
{"data":{"name":"ind"},"transform":[{"filter":"datum.c=='S' && datum.g=='A'"}],"mark":{"type":"line","interpolate":"catmull-rom","strokeWidth":1,"opacity":0.35,"color":"#f09ae6"},"encoding":{"detail":{"field":"i"}}},
{"data":{"name":"mean"},"transform":[{"filter":"datum.c=='S' && datum.g=='N'"}],"mark":{"type":"line","interpolate":"catmull-rom","strokeWidth":4.5,"color":"#4b6fe6"}},
{"data":{"name":"mean"},"transform":[{"filter":"datum.c=='S' && datum.g=='A'"}],"mark":{"type":"line","interpolate":"catmull-rom","strokeWidth":4.5,"color":"#f06ce6"}},
{"data":{"name":"lab"},"transform":[{"filter":"datum.c=='S'"}],"mark":{"type":"text","font":"Open Sans","fontSize":16,"fontWeight":"bold","align":"center","baseline":"middle"},"encoding":{"text":{"field":"txt"},"color":{"field":"g","type":"nominal","scale":{"domain":["A","N"],"range":["#f47ae8","#4a6ee0"]},"legend":null}}},
{"data":{"name":"letter"},"transform":[{"filter":"datum.c=='S'"}],"mark":{"type":"text","font":"Liberation Sans","fontSize":22,"fontWeight":"bold","align":"center","baseline":"middle","color":"#111111"},"encoding":{"text":{"field":"txt"}}},
{"data":{"name":"head"},"transform":[{"filter":"datum.c=='S'"}],"mark":{"type":"text","font":"Open Sans","fontSize":26,"fontWeight":"bold","fontStyle":"italic","align":"center","baseline":"middle","color":"#333333"},"encoding":{"text":{"field":"txt"}}}
]
},
{
"width":461,"height":367,
"encoding":{
"x":{"field":"t","type":"quantitative","scale":{"domain":[-1.42,0.5],"nice":false,"zero":false},"axis":{"values":[-1.4,-1.2,-1,-0.8,-0.6,-0.4,-0.2,0,0.2,0.4],"format":"~g","labelExpr":"replace(datum.label, '−', '-')","title":"Time to ball bounce (s)"}},
"y":{"field":"v","type":"quantitative","scale":{"domain":[-40,30],"nice":false,"zero":false},"axis":{"values":[-40,-30,-20,-10,0,10,20,30],"labelExpr":"replace(datum.label, '−', '-')","title":null}}
},
"layer":[
{"data":{"name":"ind"},"transform":[{"filter":"datum.c=='V' && datum.g=='N'"}],"mark":{"type":"line","interpolate":"catmull-rom","strokeWidth":1,"opacity":0.45,"color":"#5c9fdc"},"encoding":{"detail":{"field":"i"}}},
{"data":{"name":"ind"},"transform":[{"filter":"datum.c=='V' && datum.g=='A'"}],"mark":{"type":"line","interpolate":"catmull-rom","strokeWidth":1,"opacity":0.35,"color":"#f09ae6"},"encoding":{"detail":{"field":"i"}}},
{"data":{"name":"mean"},"transform":[{"filter":"datum.c=='V' && datum.g=='N'"}],"mark":{"type":"line","interpolate":"catmull-rom","strokeWidth":4.5,"color":"#4b6fe6"}},
{"data":{"name":"mean"},"transform":[{"filter":"datum.c=='V' && datum.g=='A'"}],"mark":{"type":"line","interpolate":"catmull-rom","strokeWidth":4.5,"color":"#f06ce6"}},
{"data":{"name":"lab"},"transform":[{"filter":"datum.c=='V'"}],"mark":{"type":"text","font":"Open Sans","fontSize":16,"fontWeight":"bold","align":"center","baseline":"middle"},"encoding":{"text":{"field":"txt"},"color":{"field":"g","type":"nominal","scale":{"domain":["A","N"],"range":["#f47ae8","#4a6ee0"]},"legend":null}}},
{"data":{"name":"letter"},"transform":[{"filter":"datum.c=='V'"}],"mark":{"type":"text","font":"Liberation Sans","fontSize":22,"fontWeight":"bold","align":"center","baseline":"middle","color":"#111111"},"encoding":{"text":{"field":"txt"}}},
{"data":{"name":"head"},"transform":[{"filter":"datum.c=='V'"}],"mark":{"type":"text","font":"Open Sans","fontSize":26,"fontWeight":"bold","fontStyle":"italic","align":"center","baseline":"middle","color":"#333333"},"encoding":{"text":{"field":"txt"}}}
]
}
],
"config":{
"view":{"stroke":null},
"axis":{"grid":false,"domainColor":"#8c8c8c","tickColor":"#8c8c8c","tickSize":-5,"labelPadding":13,"labelColor":"#404040","labelFont":"Open Sans","labelFontSize":14,"titleFont":"Open Sans","titleFontSize":18,"titleFontWeight":"bold","titleColor":"#333333","titlePadding":18},
"axisY":{"titlePadding":16,"titleFontSize":19,"labelPadding":14}
}
}
